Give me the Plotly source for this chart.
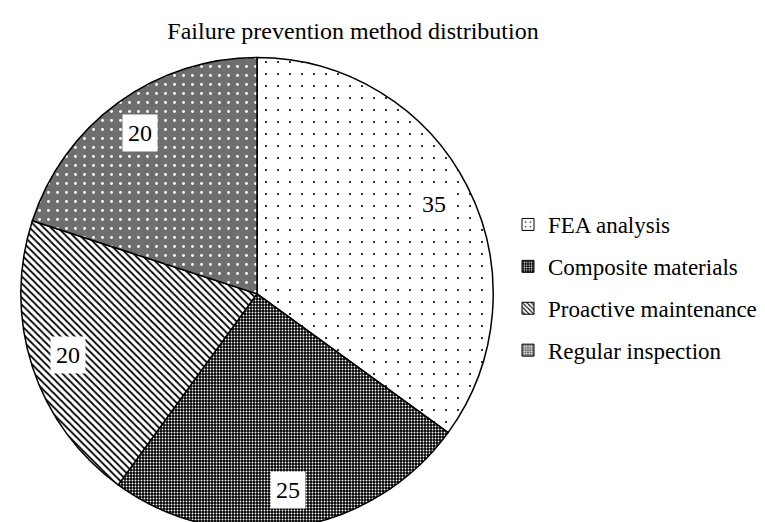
import math

import plotly.graph_objects as go

# ---- data ----
methods = ["FEA analysis", "Composite materials", "Proactive maintenance", "Regular inspection"]
shares = [35, 25, 20, 20]

# ---- style ----
W, H = 765, 522
FONT = "Liberation Serif"
shapes = [".", ".", "\\", "."]
fgcolors = ["black", "white", "black", "white"]
bgcolors = ["white", "black", "white", "#6e6e6e"]
psizes = [12, 3, 5, 9]
solidities = [0.025, 0.3, 0.35, 0.08]
LABEL_R = 0.84  # value boxes at this fraction of the pie radius

dom_x = [5 / W, 493 / W]
dom_y = [0.0, 0.905]

fig = go.Figure()
fig.add_trace(go.Pie(
    labels=methods, values=shares, sort=False, direction="clockwise", rotation=0,
    marker=dict(colors=["white"] * 4, line=dict(color="black", width=1.5),
                pattern=dict(shape=shapes, fgcolor=fgcolors, bgcolor=bgcolors,
                             size=psizes, solidity=solidities, fillmode="replace")),
    textinfo="none", hoverinfo="label+value", showlegend=False,
    domain=dict(x=dom_x, y=dom_y),
))

# legend entries (bar swatches so the row spacing can be set with tracegroupgap)
swatch_sizes = [6, 3, 4, 3]
swatch_solid = [0.08, 0.3, 0.35, 0.3]
for i, m in enumerate(methods):
    fig.add_trace(go.Bar(
        x=[0], y=[0], name=m, legendgroup=m, hoverinfo="skip",
        marker=dict(color="white", line=dict(color="black", width=1),
                    pattern=dict(shape=shapes[i], fgcolor=fgcolors[i], bgcolor=bgcolors[i],
                                 size=swatch_sizes[i], solidity=swatch_solid[i],
                                 fillmode="replace")),
    ))

# value boxes at each slice's mid angle
cx = (dom_x[0] + dom_x[1]) / 2 * W
cy = (1 - (dom_y[0] + dom_y[1]) / 2) * H
R = min((dom_x[1] - dom_x[0]) * W, (dom_y[1] - dom_y[0]) * H) / 2
total = sum(shares)
cum = 0
for v in shares:
    mid = (cum + v / 2) / total * 2 * math.pi
    cum += v
    px = cx + LABEL_R * R * math.sin(mid)
    py = cy - LABEL_R * R * math.cos(mid)
    fig.add_annotation(x=px / W, y=1 - py / H, xref="paper", yref="paper",
                       xanchor="center", yanchor="middle",
                       text=str(v), showarrow=False, bgcolor="white",
                       borderpad=5, font=dict(family=FONT, size=24, color="black"))

fig.update_layout(
    width=W, height=H,
    title=dict(text="Failure prevention method distribution", x=345 / W, xanchor="center",
               y=1 - 23 / H, yanchor="middle",
               font=dict(family=FONT, size=24, color="black")),
    font=dict(family=FONT, size=23, color="black"),
    legend=dict(x=500 / W, xanchor="left", y=1 - 195 / H, yanchor="top",
                font=dict(family=FONT, size=23, color="black"),
                tracegroupgap=9, itemclick=False, itemdoubleclick=False),
    xaxis=dict(visible=False, domain=[0, 0.01]),
    yaxis=dict(visible=False, domain=[0, 0.01]),
    margin=dict(l=0, r=0, t=0, b=0),
    paper_bgcolor="white", plot_bgcolor="rgba(0,0,0,0)",
)

fig.write_html("out.html")
